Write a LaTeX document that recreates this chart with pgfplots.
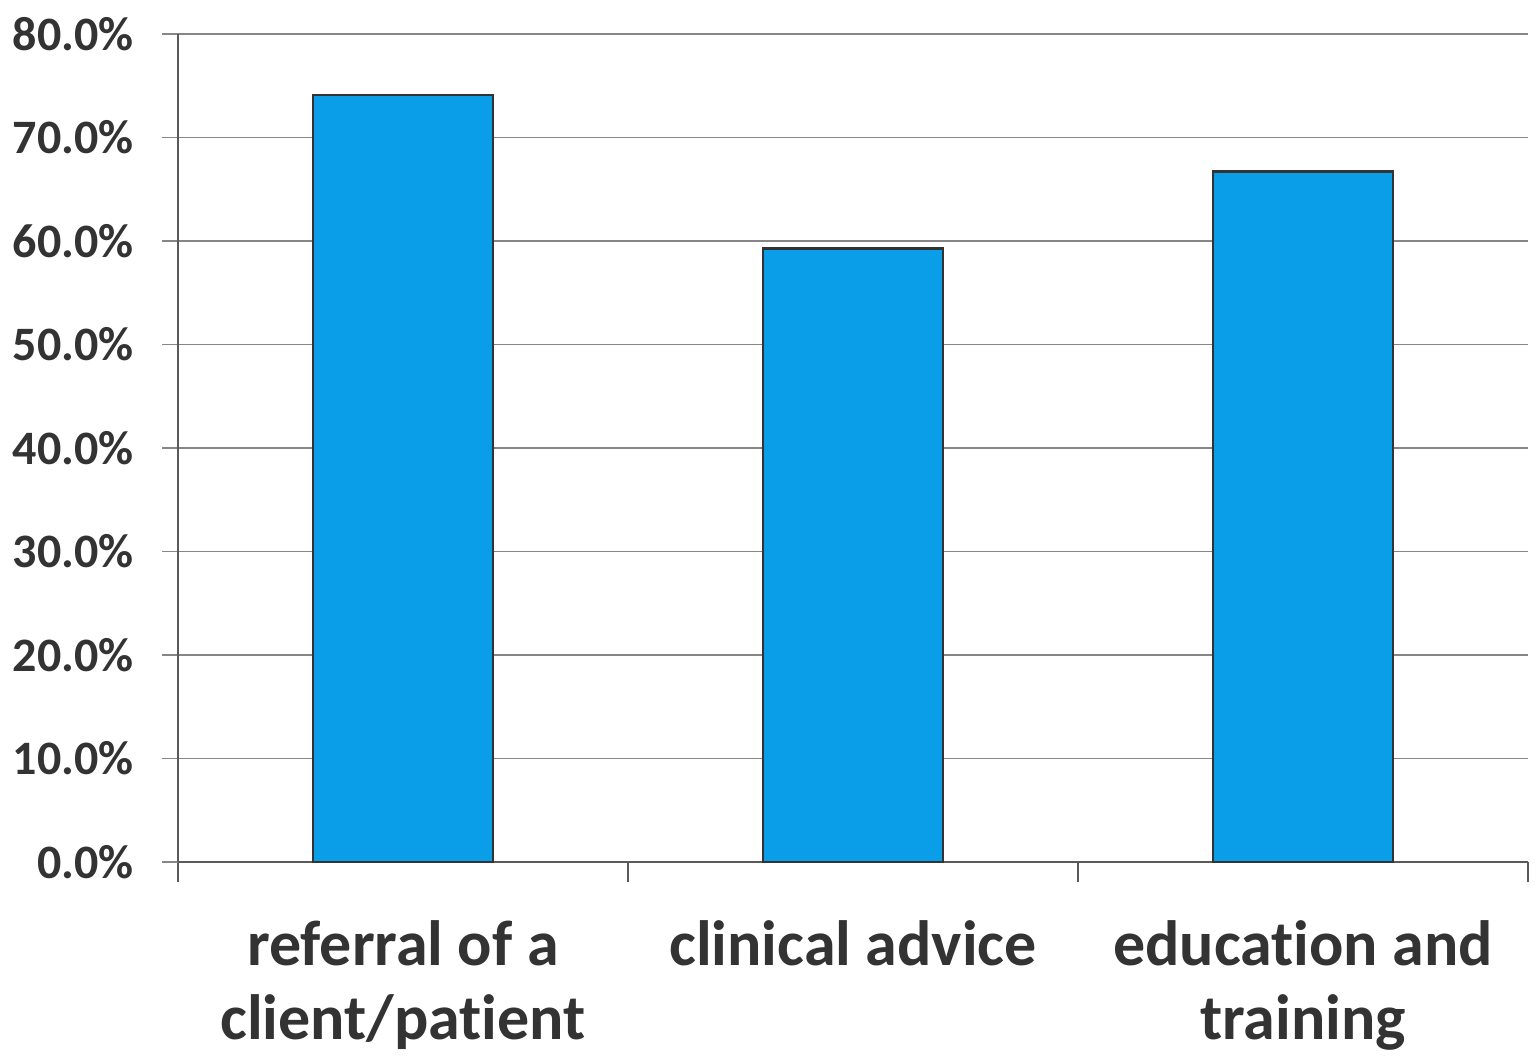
\documentclass[border=0pt]{standalone}
\usepackage{pgfplots}
\pgfplotsset{compat=1.18}
\usepackage{fontspec}
\setmainfont{Carlito}[Ligatures=NoCommon]
\definecolor{barblue}{HTML}{0A9DE8}
\definecolor{baredge}{HTML}{333333}
\definecolor{txt}{HTML}{333333}
\definecolor{gridc}{HTML}{868686}
\definecolor{axisc}{HTML}{5A5A5A}

\pgfplotstableread{
x  share
0  74.1
1  59.3
2  66.7
}\sharetable

\begin{document}
\begin{tikzpicture}
\path[use as bounding box] (-89bp,-99bp) rectangle (679bp,431bp);
\begin{axis}[
  scale only axis,
  width=675bp, height=414bp,
  xmin=-0.5, xmax=2.5,
  ymin=0, ymax=80,
  axis x line=bottom, axis y line=left,
  axis line style={draw=axisc, line width=0.6bp, -},
  xtick={0,1,2},
  xticklabels={{referral of a\\client/patient},{clinical advice},{education and\\training}},
  minor xtick={-0.5,0.5,1.5,2.5},
  major x tick style={draw=none},
  minor x tick style={draw=axisc, line width=0.6bp},
  minor tick length=10bp,
  ytick={0,10,...,80},
  yticklabels={0.0\%,10.0\%,20.0\%,30.0\%,40.0\%,50.0\%,60.0\%,70.0\%,80.0\%},
  major y tick style={draw=gridc, line width=0.6bp},
  major tick length=8bp,
  tick align=outside,
  ymajorgrids,
  major grid style={draw=gridc, line width=0.6bp},
  yticklabel style={font=\fontsize{24bp}{28bp}\selectfont\bfseries, text=txt, anchor=east, inner sep=0pt, xshift=-14bp},
  xticklabel style={font=\fontsize{32bp}{37bp}\selectfont\bfseries, text=txt, align=center, anchor=north, inner sep=0pt, yshift=-21bp},
  clip=false,
]
\addplot[ybar, bar width=0.4, fill=barblue, draw=baredge, line width=1.4bp] table[x=x, y=share] {\sharetable};
\end{axis}
\end{tikzpicture}
\end{document}
